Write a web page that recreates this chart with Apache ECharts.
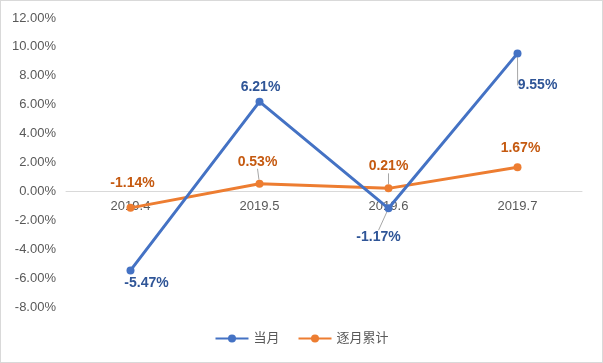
<!DOCTYPE html>
<html><head><meta charset="utf-8">
<script src="https://cdn.jsdelivr.net/npm/echarts@6/dist/echarts.min.js"></script>
<style>html,body{margin:0;padding:0;background:#fff}#c{width:601px;height:361px;border:1px solid #d9d9d9}</style>
</head><body><div id="c"></div>
<script>
var categories = ['2019.4','2019.5','2019.6','2019.7'];
var monthly = [-5.47, 6.21, -1.17, 9.55];
var cumulative = [-1.14, 0.53, 0.21, 1.67];
var yTicks = [-8,-6,-4,-2,0,2,4,6,8,10,12];

var monthlyLabelPos = [[16,13],[1,-15],[-10,29],[20,32]];
var monthlyGuide = [false,false,true,true];
var cumLabelPos = [[2,-25],[-2,-22],[0,-22],[3,-19]];
var cumGuide = [false,true,true,false];

var chart = echarts.init(document.getElementById('c'));
var font = '"Liberation Sans", Arial, "Noto Sans CJK SC", sans-serif';
function mk(vals, guide) {
  return vals.map(function(v,i){
    return {value: v, labelLine: {show: guide[i]}};
  });
}
function layout(pos){
  return function(p){ var o = pos[p.dataIndex]; return {dx:o[0], dy:o[1]}; };
}
var gTop = 17, gBottom = 55, H = 361 - gTop - gBottom;
var zeroOffset = H * (0 - yTicks[0]) / (yTicks[yTicks.length-1] - yTicks[0]);
chart.setOption({
  animation:false,
  textStyle:{fontFamily:font},
  grid:{left:65,right:20,top:gTop,bottom:gBottom,containLabel:false},
  legend:{bottom:12,left:'center',itemGap:18,itemWidth:33,itemHeight:10,
    textStyle:{color:'#595959',fontSize:13,fontFamily:font},
    data:['当月','逐月累计']},
  xAxis:{type:'category',data:categories,boundaryGap:true,offset:-zeroOffset,
    axisLine:{onZero:false,lineStyle:{color:'#d9d9d9'}},axisTick:{show:false},
    axisLabel:{color:'#595959',fontSize:13,margin:9}},
  yAxis:{type:'value',min:yTicks[0],max:yTicks[yTicks.length-1],interval:2,
    splitLine:{show:false},axisLine:{show:false},axisTick:{show:false},
    axisLabel:{color:'#595959',fontSize:13,margin:10,formatter:function(v){return v.toFixed(2)+'%';}}},
  series:[
    {name:'当月',type:'line',data:mk(monthly,monthlyGuide),symbol:'circle',symbolSize:8,z:3,
      itemStyle:{color:'#4472C4'},lineStyle:{width:3,color:'#4472C4'},
      labelLayout:layout(monthlyLabelPos),
      labelLine:{lineStyle:{color:'#a6a6a6',width:1}},
      label:{show:true,position:'inside',color:'#2F5597',fontWeight:'bold',fontSize:14,
        formatter:function(p){return p.value.toFixed(2)+'%';}}},
    {name:'逐月累计',type:'line',data:mk(cumulative,cumGuide),symbol:'circle',symbolSize:8,z:2,
      itemStyle:{color:'#ED7D31'},lineStyle:{width:3,color:'#ED7D31'},
      labelLayout:layout(cumLabelPos),
      labelLine:{lineStyle:{color:'#a6a6a6',width:1}},
      label:{show:true,position:'inside',color:'#C55A11',fontWeight:'bold',fontSize:14,
        formatter:function(p){return p.value.toFixed(2)+'%';}}}
  ]
});
</script></body></html>
